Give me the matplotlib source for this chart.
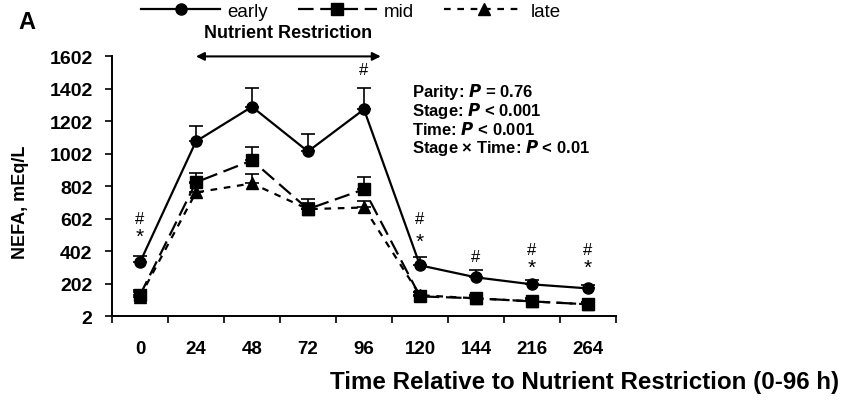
import matplotlib
matplotlib.use('Agg')
import matplotlib.pyplot as plt
from matplotlib.lines import Line2D
import numpy as np

plt.rcParams['font.family'] = ['Liberation Sans', 'DejaVu Sans']
plt.rcParams['font.weight'] = 'bold'

hours = ['0', '24', '48', '72', '96', '120', '144', '216', '264']
early = [332, 1077, 1290, 1015, 1274, 314, 240, 197, 172]
early_se = [40, 95, 115, 110, 130, 50, 45, 25, 20]
mid = [130, 825, 960, 660, 782, 123, 111, 92, 74]
mid_se = [35, 60, 80, 60, 75, 25, 20, 18, 15]
late = [120, 763, 818, 660, 670, 130, 111, 92, 74]
late_se = [30, 55, 60, 40, 40, 20, 15, 15, 12]

# significance marks: (index, y)
hash_marks = [(0, 600), (4, 1520), (5, 600), (6, 370), (7, 410), (8, 410)]
star_marks = [(0, 490), (5, 460), (7, 300), (8, 300)]

fig = plt.figure(figsize=(8.56, 4.02), dpi=100)
ax = fig.add_axes([0.1308, 0.2114, 0.5888, 0.6466])

x = np.arange(len(hours))
styles = [('early', early, early_se, '-', 'o'),
          ('mid', mid, mid_se, (0, (7, 3)), 's'),
          ('late', late, late_se, (0, (3, 3)), '^')]
handles = []
for name, vals, se, ls, mk in styles:
    ax.errorbar(x, vals, yerr=[np.zeros(len(x)), se], color='black', lw=1.6, ls=ls,
                marker=mk, ms=8, capsize=5, capthick=1.2, elinewidth=1.2,
                zorder=4 if name == 'early' else 3)
    handles.append(Line2D([], [], color='black', lw=1.6, ls=ls, marker=mk, ms=8, label=name))

for i, yy in hash_marks:
    ax.text(x[i], yy, '#', ha='center', va='center', fontsize=12, fontweight='normal')
for i, yy in star_marks:
    ax.text(x[i], yy, '*', ha='center', va='center', fontsize=15, fontweight='normal')

ax.set_xlim(-0.5, len(hours) - 0.5)
ax.set_ylim(2, 1602)
ax.set_yticks(np.arange(2, 1603, 200))
ax.set_xticks(x)
ax.set_xticklabels(hours)
ax.set_xticks(np.arange(-0.5, len(hours), 1), minor=True)
ax.tick_params(axis='x', which='major', length=0, pad=17, labelsize=13.5)
ax.tick_params(axis='x', which='minor', length=5, width=1.2, direction='out')
ax.tick_params(axis='y', length=5, width=1.2, direction='out', labelsize=14, pad=9)
for s in ['top', 'right']:
    ax.spines[s].set_visible(False)
for s in ['left', 'bottom']:
    ax.spines[s].set_linewidth(1.4)

ax.set_ylabel('NEFA, mEq/L', fontsize=13, fontweight='bold')
ax.yaxis.set_label_coords(-0.165, 0.44)
fig.text(0.385, 0.048, 'Time Relative to Nutrient Restriction (0-96 h)',
         fontsize=17.4, fontweight='bold', ha='left', va='center')

# nutrient restriction arrow
ax.annotate('', xy=(0.95, 1600), xytext=(4.35, 1600), xycoords='data',
            arrowprops=dict(arrowstyle='<|-|>', color='black', lw=1.5, mutation_scale=12),
            annotation_clip=False)
ax.text(2.65, 1750, 'Nutrient Restriction', ha='center', va='center',
        fontsize=13, fontweight='bold')

stats = ['Parity: $\\bf{\\it{P}}$ = 0.76', 'Stage: $\\bf{\\it{P}}$ < 0.001',
         'Time: $\\bf{\\it{P}}$ < 0.001', 'Stage \u00d7 Time: $\\bf{\\it{P}}$ < 0.01']
for k, s in enumerate(stats):
    fig.text(0.481, 0.771 - k * 0.0465, s, fontsize=12, fontweight='bold', va='center')

fig.text(0.022, 0.945, 'A', fontsize=17, fontweight='bold', va='center')

leg = fig.legend(handles=handles, loc='center', bbox_to_anchor=(0.41, 0.97), ncol=3,
                 frameon=False, fontsize=13.5, handlelength=4.2, columnspacing=1.6,
                 handletextpad=0.4)
for t in leg.get_texts():
    t.set_fontweight('normal')

fig.savefig('out.png', dpi=100)
